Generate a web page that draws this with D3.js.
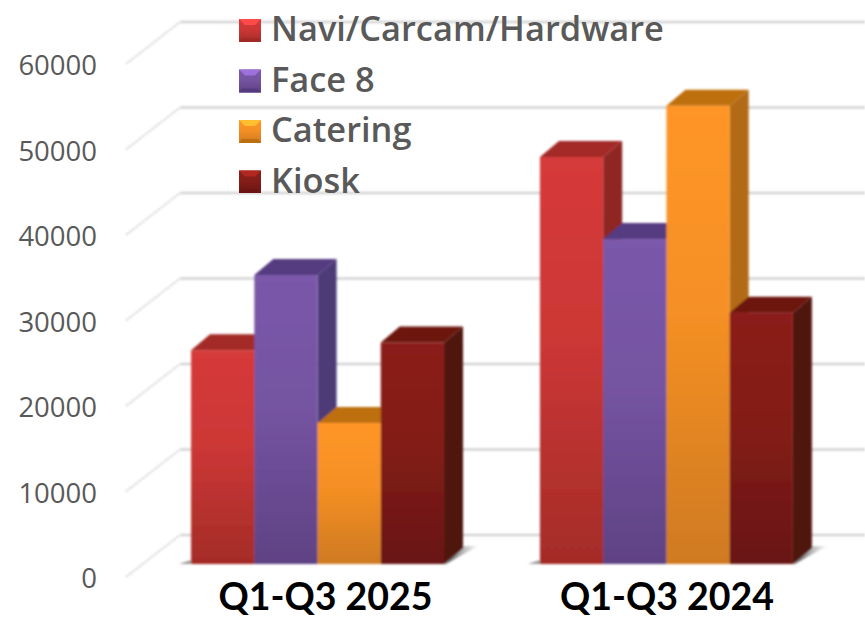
<!DOCTYPE html>
<html>
<head>
<meta charset="utf-8">
<script src="https://cdn.jsdelivr.net/npm/d3@7"></script>
<style>
  html, body { margin: 0; padding: 0; background: #fff; }
  svg { display: block; }
  .axis text { font-family: "Open Sans", sans-serif; }
</style>
</head>
<body>
<div id="chart-area"></div>
<script>
const periods = ["Q1-Q3 2025", "Q1-Q3 2024"];
const seriesNames = ["Navi/Carcam/Hardware", "Face 8", "Catering", "Kiosk"];
const naviValues = [25000, 47600];
const faceValues = [33800, 38000];
const cateringValues = [16500, 53600];
const kioskValues = [25900, 29400];
const yTicks = [0, 10000, 20000, 30000, 40000, 50000, 60000];

const seriesValues = [naviValues, faceValues, cateringValues, kioskValues];

// front, lit top of front, top face, side face
const palette = [
  { hi: "#d63a3a", lo: "#a42c28", top: "#a32a28", side: "#8f2624" },
  { hi: "#7b58aa", lo: "#5f4284", top: "#553a80", side: "#4d3a78" },
  { hi: "#ff9526", lo: "#cf7a20", top: "#bd6f10", side: "#b36a18" },
  { hi: "#8b1f1a", lo: "#691512", top: "#6c1510", side: "#50130f" }
];

const width = 865;
const height = 617;
const barBase = 564;    // where the bars stand
const axisBase = 577;   // front edge of the floor
const wallBase = 535;   // back edge of the floor
const wallLeft = 180;
const frontLeft = 126;
const depthX = 19;
const depthY = 16;

const svg = d3.select("#chart-area")
  .append("svg")
    .attr("width", width)
    .attr("height", height);

const defs = svg.append("defs");

palette.forEach((p, i) => {
  const g = defs.append("linearGradient")
      .attr("id", "front" + i)
      .attr("x1", 0).attr("x2", 0).attr("y1", 0).attr("y2", 1);
  g.append("stop").attr("offset", "0%").attr("stop-color", p.hi);
  g.append("stop").attr("offset", "45%").attr("stop-color", d3.interpolateRgb(p.hi, p.lo)(0.2));
  g.append("stop").attr("offset", "100%").attr("stop-color", p.lo);
});

const shadowGrad = defs.append("linearGradient")
    .attr("id", "shadow")
    .attr("x1", 0).attr("x2", 1).attr("y1", 0).attr("y2", 0);
shadowGrad.append("stop").attr("offset", "0%").attr("stop-color", "#333");
shadowGrad.append("stop").attr("offset", "100%").attr("stop-color", "#bbb").attr("stop-opacity", 0.2);

defs.append("filter").attr("id", "soft")
  .append("feGaussianBlur").attr("stdDeviation", 0.8);

defs.append("clipPath").attr("id", "legend-clip")
  .append("rect").attr("x", 0).attr("y", 0).attr("width", width).attr("height", 193);

const yScale = d3.scaleLinear()
    .domain([0, 60000])
    .range([0, -513]);

const groupScale = d3.scaleBand()
    .domain(periods)
    .range([144, 840])
    .paddingInner(0.275)
    .paddingOuter(0.135);

const barScale = d3.scaleBand()
    .domain(seriesNames)
    .range([0, groupScale.bandwidth()]);

const labelScale = d3.scalePoint()
    .domain(periods)
    .range([325, 666.5]);

// walls
const grid = svg.append("g").attr("filter", "url(#soft)");

grid.selectAll(".wall-line")
  .data(yTicks)
  .enter().append("line")
    .attr("class", "wall-line")
    .attr("x1", wallLeft)
    .attr("x2", width)
    .attr("y1", d => wallBase + yScale(d))
    .attr("y2", d => wallBase + yScale(d))
    .attr("stroke", "#d2d2d2")
    .attr("stroke-width", 2.5);

grid.selectAll(".side-line")
  .data(yTicks)
  .enter().append("line")
    .attr("class", "side-line")
    .attr("x1", frontLeft)
    .attr("x2", wallLeft)
    .attr("y1", d => axisBase + yScale(d))
    .attr("y2", d => wallBase + yScale(d))
    .attr("stroke", "#cfcfcf")
    .attr("stroke-width", 1.5)
    .attr("stroke-dasharray", "3 1");

// y axis
const yAxis = d3.axisLeft(yScale)
    .tickValues(yTicks)
    .tickSize(0)
    .tickPadding(0)
    .tickFormat(d3.format("d"));

const yAxisGroup = svg.append("g")
    .attr("class", "axis y-axis")
    .attr("transform", `translate(97,${axisBase + 2})`)
    .call(yAxis);
yAxisGroup.select(".domain").remove();
yAxisGroup.selectAll("text")
    .style("font-size", "27.5px")
    .attr("fill", "#595959");

// legend
const legend = svg.append("g").attr("clip-path", "url(#legend-clip)");

const legendScale = d3.scalePoint()
    .domain(seriesNames)
    .range([19, 170.5]);

const legendItems = legend.selectAll(".legend-item")
  .data(seriesNames)
  .enter().append("g")
    .attr("class", "legend-item")
    .attr("transform", d => `translate(239,${legendScale(d)})`);

const sw = 22;
const sh = 23;
const bev = 6;
legendItems.append("rect")
    .attr("width", sw)
    .attr("height", sh)
    .attr("fill", (d, i) => `url(#front${i})`);
legendItems.append("path")
    .attr("d", `M0,0H${sw}L${sw - bev},${bev}H${bev}Z`)
    .attr("fill", (d, i) => d3.color(palette[i].hi).brighter(0.7));
legendItems.append("path")
    .attr("d", `M0,${sh}H${sw}L${sw - 3},${sh - 4}H3Z`)
    .attr("fill", (d, i) => palette[i].top);
legendItems.append("text")
    .attr("x", 32)
    .attr("y", 22)
    .attr("fill", "#595959")
    .style("font-family", "'Open Sans', sans-serif")
    .style("font-weight", 600)
    .style("font-size", "34.4px")
    .text(d => d);

// bars
const groups = svg.selectAll(".period")
  .data(periods)
  .enter().append("g")
    .attr("class", "period")
    .attr("filter", "url(#soft)")
    .attr("transform", d => `translate(${groupScale(d)},0)`);

const bw = groupScale.bandwidth();

groups.append("path")
    .attr("d", `M${bw},${barBase + 1}L${bw + 34},${barBase - depthY - 2}H${bw + depthX}Z`)
    .attr("fill", "url(#shadow)");
groups.append("path")
    .attr("d", `M-12,${barBase}H0V${barBase - 4}Z`)
    .attr("fill", "#999");

const bars = groups.selectAll(".bar")
  .data((p, pi) => seriesNames.map((name, i) => ({ name, i, value: seriesValues[i][pi] })))
  .enter().append("g")
    .attr("class", "bar");

const barTop = d => barBase + yScale(d.value);

bars.append("path")
    .attr("d", d => {
      const x = barScale(d.name) + barScale.bandwidth();
      return `M${x},${barTop(d)}l${depthX},${-depthY}V${barBase - depthY}L${x},${barBase}Z`;
    })
    .attr("fill", d => palette[d.i].side);

bars.append("path")
    .attr("d", d => {
      const x = barScale(d.name);
      return `M${x},${barTop(d)}l${depthX},${-depthY}h${barScale.bandwidth()}l${-depthX},${depthY}Z`;
    })
    .attr("fill", d => palette[d.i].top);

bars.append("rect")
    .attr("x", d => barScale(d.name))
    .attr("y", barTop)
    .attr("width", barScale.bandwidth())
    .attr("height", d => barBase - barTop(d))
    .attr("fill", d => `url(#front${d.i})`);

// category labels
const xAxisGroup = svg.append("g")
    .attr("class", "axis x-axis")
    .attr("transform", "translate(0,610)")
    .call(d3.axisBottom(labelScale).tickSize(0).tickPadding(0));
xAxisGroup.select(".domain").remove();
xAxisGroup.selectAll("text")
    .attr("y", 0)
    .attr("dy", 0)
    .attr("fill", "#000")
    .style("font-family", "Lato, sans-serif")
    .style("font-weight", 700)
    .style("font-size", "37.5px");
</script>
</body>
</html>
